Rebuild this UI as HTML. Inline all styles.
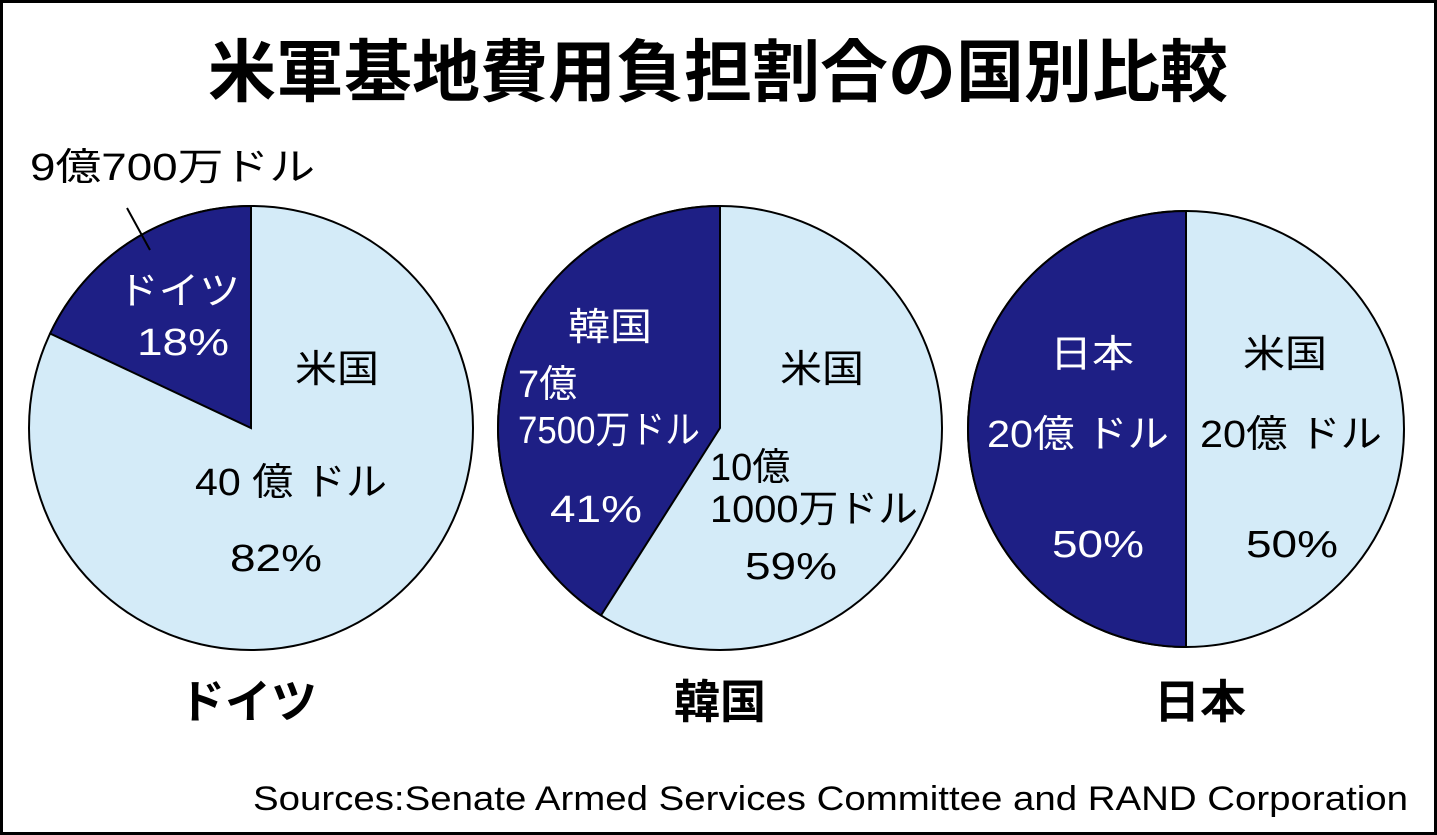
<!DOCTYPE html>
<html><head><meta charset="utf-8"><style>
html,body{margin:0;padding:0;background:#fff}
svg{display:block}
text{font-family:"Liberation Sans","Noto Sans CJK JP",sans-serif}
</style></head><body>
<svg width="1437" height="835" viewBox="0 0 1437 835">
<rect x="1.5" y="1.5" width="1434" height="832" fill="#fff" stroke="#000" stroke-width="3"/>
<text x="718" y="96" font-size="68" font-weight="bold" text-anchor="middle" textLength="1020" lengthAdjust="spacingAndGlyphs">米軍基地費用負担割合の国別比較</text>

<!-- Germany -->
<circle cx="251" cy="428" r="222" fill="#d4ebf8" stroke="#000" stroke-width="2"/>
<path d="M251,428 L251,206 A222,222 0 0 0 50.1,333.5 Z" fill="#1e1f85" stroke="#000" stroke-width="2"/>
<line x1="127" y1="208" x2="150" y2="250" stroke="#000" stroke-width="2"/>
<g font-size="38" fill="#000">
<text x="30" y="180" textLength="285" lengthAdjust="spacingAndGlyphs">9億700万ドル</text>
<text x="295" y="382" textLength="84" lengthAdjust="spacingAndGlyphs">米国</text>
<text x="195" y="495" textLength="192" lengthAdjust="spacingAndGlyphs">40 億 ドル</text>
<text x="230" y="571" textLength="92" lengthAdjust="spacingAndGlyphs">82%</text>
</g>
<g font-size="38" fill="#fff">
<text x="118" y="304" textLength="122" lengthAdjust="spacingAndGlyphs">ドイツ</text>
<text x="137" y="355" textLength="92" lengthAdjust="spacingAndGlyphs">18%</text>
</g>
<text x="248" y="718" font-size="46" font-weight="bold" text-anchor="middle">ドイツ</text>

<!-- Korea -->
<circle cx="720" cy="428" r="222" fill="#d4ebf8" stroke="#000" stroke-width="2"/>
<path d="M720,428 L720,206 A222,222 0 0 0 601,615.4 Z" fill="#1e1f85" stroke="#000" stroke-width="2"/>
<g font-size="38" fill="#fff">
<text x="568" y="340" textLength="84" lengthAdjust="spacingAndGlyphs">韓国</text>
<text x="518" y="397">7億</text>
<text x="518" y="443" textLength="182" lengthAdjust="spacingAndGlyphs">7500万ドル</text>
<text x="550" y="522" textLength="92" lengthAdjust="spacingAndGlyphs">41%</text>
</g>
<g font-size="38" fill="#000">
<text x="780" y="382" textLength="84" lengthAdjust="spacingAndGlyphs">米国</text>
<text x="710" y="480">10億</text>
<text x="710" y="522" textLength="208" lengthAdjust="spacingAndGlyphs">1000万ドル</text>
<text x="745" y="579" textLength="92" lengthAdjust="spacingAndGlyphs">59%</text>
</g>
<text x="720" y="718" font-size="46" font-weight="bold" text-anchor="middle">韓国</text>

<!-- Japan -->
<circle cx="1186" cy="429" r="218" fill="#d4ebf8" stroke="#000" stroke-width="2"/>
<path d="M1186,429 L1186,211 A218,218 0 0 0 1186,647 Z" fill="#1e1f85" stroke="#000" stroke-width="2"/>
<g font-size="38" fill="#fff">
<text x="1050" y="367" textLength="84" lengthAdjust="spacingAndGlyphs">日本</text>
<text x="987" y="447" textLength="182" lengthAdjust="spacingAndGlyphs">20億 ドル</text>
<text x="1052" y="557" textLength="92" lengthAdjust="spacingAndGlyphs">50%</text>
</g>
<g font-size="38" fill="#000">
<text x="1243" y="367" textLength="84" lengthAdjust="spacingAndGlyphs">米国</text>
<text x="1200" y="447" textLength="182" lengthAdjust="spacingAndGlyphs">20億 ドル</text>
<text x="1246" y="557" textLength="92" lengthAdjust="spacingAndGlyphs">50%</text>
</g>
<text x="1200" y="718" font-size="46" font-weight="bold" text-anchor="middle">日本</text>

<text x="1408" y="810" font-size="34" text-anchor="end" textLength="1155" lengthAdjust="spacingAndGlyphs">Sources:Senate Armed Services Committee and RAND Corporation</text>
</svg>
</body></html>
